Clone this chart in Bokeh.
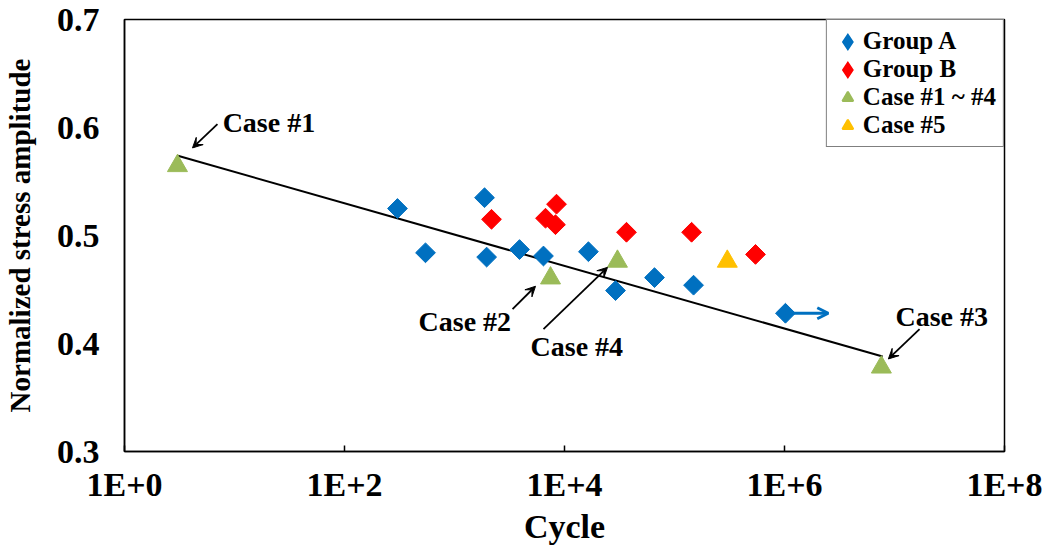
import numpy as np
from bokeh.plotting import figure
from bokeh.models import (ColumnDataSource, FixedTicker, Arrow, VeeHead, OpenHead,
                          Legend, LegendItem)
from bokeh.core.properties import value
from bokeh.embed import file_html
from bokeh.resources import INLINE

# ---- data ----
groupA_cycles = [303, 545, 1875, 1960, 3900, 6440, 16500, 29100, 65800, 149000, 1.02e6]
groupA_stress = [0.525, 0.484, 0.535, 0.480, 0.487, 0.481, 0.485, 0.449, 0.461, 0.454, 0.428]

groupB_cycles = [2170, 6720, 8460, 8280, 36600, 143000, 545000]
groupB_stress = [0.515, 0.516, 0.529, 0.510, 0.503, 0.503, 0.4825]

case14_cycles = [3.03, 7460, 30300, 7.6e6]
case14_stress = [0.5645, 0.4605, 0.476, 0.378]

case5_cycles = [302000]
case5_stress = [0.476]

fit_cycles = [3.0, 7.8e6]
fit_stress = [0.574, 0.388]

runout_from = [1.02e6, 0.428]
runout_to = [2.5e6, 0.428]

ann_labels = ["Case #1", "Case #2", "Case #4", "Case #3"]
ann_text_x = [7.8, 471, 4910, 1.02e7]
ann_text_y = [0.605, 0.4207, 0.3968, 0.4253]
ann_tail_x = [7.0, 3370, 6440, 1.69e7]
ann_tail_y = [0.6032, 0.4318, 0.4134, 0.4134]
ann_head_x = [4.15, 5450, 24600, 8.8e6]
ann_head_y = [0.5811, 0.453, 0.4705, 0.3857]

x_ticks = [1, 1e2, 1e4, 1e6, 1e8]
x_tick_labels = ["1E+0", "1E+2", "1E+4", "1E+6", "1E+8"]
y_ticks = [0.3, 0.4, 0.5, 0.6, 0.7]

FONT = "Liberation Serif"
BLUE, RED, GREEN, ORANGE = "#0070C0", "#FF0000", "#9BBB59", "#FFC000"

p = figure(width=1042, height=547, x_axis_type="log",
           x_range=(1, 1e8), y_range=(0.3, 0.7),
           output_backend="svg", toolbar_location=None,
           min_border_left=124, min_border_right=38,
           min_border_top=19, min_border_bottom=94)

p.grid.visible = False
p.outline_line_color = "black"
p.outline_line_width = 1.5
p.background_fill_color = "white"
p.border_fill_color = "white"

# axes
p.xaxis.ticker = FixedTicker(ticks=x_ticks, minor_ticks=[])
p.xaxis.major_label_overrides = {t: l for t, l in zip(x_ticks, x_tick_labels)}
p.yaxis.ticker = FixedTicker(ticks=y_ticks, minor_ticks=[])
p.yaxis.formatter.use_scientific = False
for ax in (p.xaxis[0], p.yaxis[0]):
    ax.axis_line_color = "black"
    ax.axis_line_width = 1.5
    ax.major_tick_out = 0
    ax.minor_tick_out = 0
    ax.minor_tick_in = 0
    ax.major_label_text_font = FONT
    ax.major_label_text_font_style = "bold"
    ax.major_label_text_color = "black"
    ax.axis_label_text_font = FONT
    ax.axis_label_text_font_style = "bold"
    ax.axis_label_text_color = "black"
p.xaxis.major_tick_in = 6
p.xaxis.major_tick_line_width = 1.5
p.yaxis.major_tick_in = 0
p.xaxis.major_label_text_font_size = "34px"
p.yaxis.major_label_text_font_size = "34px"
p.xaxis.major_label_standoff = 14
p.yaxis.major_label_standoff = 25
p.xaxis.axis_label = "Cycle"
p.yaxis.axis_label = "Normalized stress amplitude"
p.xaxis.axis_label_text_font_size = "34px"
p.yaxis.axis_label_text_font_size = "29px"
p.xaxis.axis_label_standoff = 2
p.yaxis.axis_label_standoff = 18

# fit line
p.line(fit_cycles, fit_stress, line_color="black", line_width=2)

# run-out arrow
p.add_layout(Arrow(end=OpenHead(size=11, line_color=BLUE, line_width=3),
                   x_start=runout_from[0], y_start=runout_from[1],
                   x_end=runout_to[0], y_end=runout_to[1],
                   line_color=BLUE, line_width=3))

# markers (rotated squares = diamonds)
p.scatter(groupA_cycles, groupA_stress, marker="square", angle=np.pi / 4,
          size=14, fill_color=BLUE, line_color=BLUE)
p.scatter(groupB_cycles, groupB_stress, marker="square", angle=np.pi / 4,
          size=14, fill_color=RED, line_color=RED)
p.scatter(case14_cycles, case14_stress, marker="triangle",
          size=20, fill_color=GREEN, line_color=GREEN)
p.scatter(case5_cycles, case5_stress, marker="triangle",
          size=20, fill_color=ORANGE, line_color=ORANGE)

# legend proxies: hidden renderers over the same data, drawn only as legend keys
lA = p.scatter(groupA_cycles, groupA_stress, marker="diamond", size=14,
               fill_color=BLUE, line_color=BLUE, line_width=4, line_join="miter", visible=False)
lB = p.scatter(groupB_cycles, groupB_stress, marker="diamond", size=14,
               fill_color=RED, line_color=RED, line_width=4, line_join="miter", visible=False)
lC = p.scatter(case14_cycles, case14_stress, marker="triangle", size=14,
               fill_color=GREEN, line_color=GREEN, line_width=2, visible=False)
lD = p.scatter(case5_cycles, case5_stress, marker="triangle", size=14,
               fill_color=ORANGE, line_color=ORANGE, line_width=2, visible=False)

# annotation arrows
ann_src = ColumnDataSource(dict(x0=ann_tail_x, y0=ann_tail_y, x1=ann_head_x, y1=ann_head_y))
p.add_layout(Arrow(end=VeeHead(size=10, fill_color="black", line_color="black"),
                   source=ann_src, x_start="x0", y_start="y0", x_end="x1", y_end="y1",
                   line_color="black", line_width=1.8))

# annotation texts
txt_src = ColumnDataSource(dict(x=ann_text_x, y=ann_text_y, t=ann_labels))
p.text(x="x", y="y", text="t", source=txt_src, text_font=value(FONT),
       text_font_style="bold", text_font_size="28px", text_color="black",
       text_align="left", text_baseline="middle")

legend = Legend(items=[
    LegendItem(label="Group A", renderers=[lA]),
    LegendItem(label="Group B", renderers=[lB]),
    LegendItem(label="Case #1 ~ #4", renderers=[lC]),
    LegendItem(label="Case #5", renderers=[lD]),
], location="top_right")
legend.margin = 0
legend.padding = 7
legend.spacing = 0
legend.label_height = 27
legend.glyph_height = 27
legend.glyph_width = 27
legend.label_standoff = 2
legend.inactive_fill_alpha = 0
legend.label_text_font = FONT
legend.label_text_font_style = "bold"
legend.label_text_font_size = "25px"
legend.label_text_color = "black"
legend.border_line_color = "black"
legend.border_line_width = 1.5
legend.background_fill_alpha = 1.0
p.add_layout(legend)

open("out.html", "w").write(file_html(p, INLINE))
